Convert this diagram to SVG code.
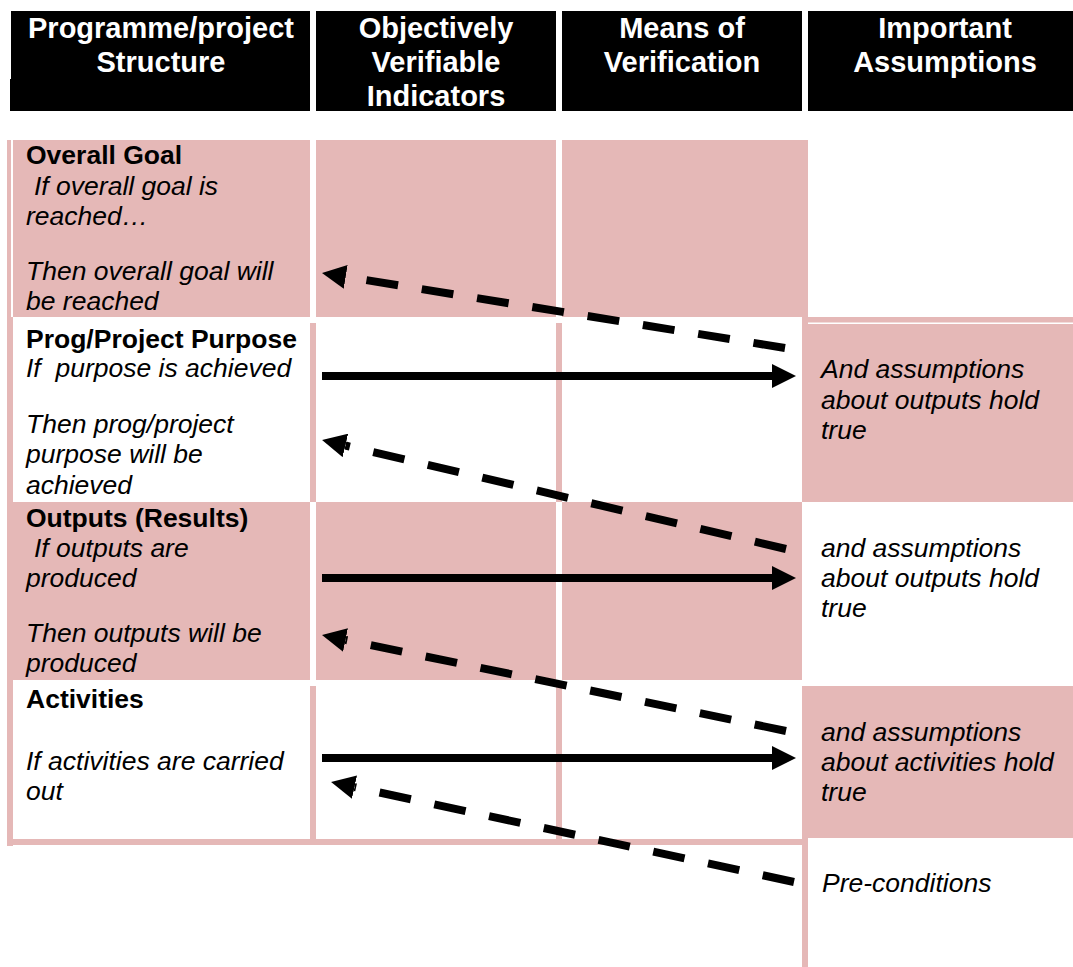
<svg xmlns="http://www.w3.org/2000/svg" width="1073" height="967" viewBox="0 0 1073 967">
  <style>
    .hd { font: bold 29px "Liberation Sans", Arial, sans-serif; fill: #fff; text-anchor: middle; }
    .b { font: bold 26.5px "Liberation Sans", Arial, sans-serif; fill: #000; }
    .i { font: italic 26.5px "Liberation Sans", Arial, sans-serif; fill: #000; }
    .pk { fill: #E5B8B7; }
    .blk { fill: #000; }
    .solid { stroke: #000; stroke-width: 8; fill: none; }
    .dash { stroke: #000; stroke-width: 8; fill: none; stroke-dasharray: 32 24; }
  </style>
  <defs>
    <marker id="head" markerUnits="userSpaceOnUse" markerWidth="24" markerHeight="24" viewBox="0 0 24 24" refX="0" refY="12" orient="auto">
      <path d="M0,0 L24,12 L0,24 z" fill="#000"/>
    </marker>
  </defs>
  <rect width="1073" height="967" fill="#fff"/>

  <!-- column headings -->
  <g id="hdr-structure">
    <path class="blk" d="M11,11 H310 V111 H10 V79 H11 z"/>
    <text class="hd" x="161" y="38">Programme/project</text>
    <text class="hd" x="161" y="72">Structure</text>
  </g>
  <g id="hdr-indicators">
    <rect class="blk" x="316" y="11" width="240" height="100"/>
    <text class="hd" x="436" y="38">Objectively</text>
    <text class="hd" x="436" y="72">Verifiable</text>
    <text class="hd" x="436" y="106">Indicators</text>
  </g>
  <g id="hdr-verification">
    <rect class="blk" x="562" y="11" width="240" height="100"/>
    <text class="hd" x="682" y="38">Means of</text>
    <text class="hd" x="682" y="72">Verification</text>
  </g>
  <g id="hdr-assumptions">
    <rect class="blk" x="808" y="11" width="265" height="100"/>
    <text class="hd" x="945" y="38">Important</text>
    <text class="hd" x="945" y="72">Assumptions</text>
  </g>

  <!-- table frame: left and bottom borders -->
  <g id="frame">
    <rect class="pk" x="7" y="140" width="6" height="706"/>
    <rect fill="#fff" x="11" y="140" width="2" height="177"/>
    <rect class="pk" x="7" y="839" width="801" height="6"/>
    <rect class="pk" x="802" y="838" width="6" height="129"/>
  </g>

  <!-- row 1: overall goal -->
  <g id="goal">
    <rect class="pk" x="13" y="140" width="297" height="177"/>
    <rect class="pk" x="316" y="140" width="240" height="177"/>
    <rect class="pk" x="562" y="140" width="246" height="177"/>
    <text class="b" x="26" y="164">Overall Goal</text>
    <text class="i" x="34" y="195">If overall goal is</text>
    <text class="i" x="26" y="225">reached…</text>
    <text class="i" x="26" y="280">Then overall goal will</text>
    <text class="i" x="26" y="310">be reached</text>
  </g>

  <!-- row 2: purpose -->
  <g id="purpose">
    <rect class="pk" x="310" y="323" width="6" height="179"/>
    <rect class="pk" x="556" y="323" width="6" height="179"/>
    <text class="b" x="26" y="348">Prog/Project Purpose</text>
    <text class="i" x="26" y="377" xml:space="preserve">If  purpose is achieved</text>
    <text class="i" x="26" y="433">Then prog/project</text>
    <text class="i" x="26" y="463">purpose will be</text>
    <text class="i" x="26" y="494">achieved</text>
  </g>
  <g id="assume-outputs-1">
    <rect class="pk" x="802" y="317" width="271" height="185"/>
    <rect fill="#fff" x="808" y="322.5" width="265" height="1.5"/>
    <text class="i" x="821" y="378">And assumptions</text>
    <text class="i" x="821" y="409">about outputs hold</text>
    <text class="i" x="821" y="439">true</text>
  </g>

  <!-- row 3: outputs -->
  <g id="outputs">
    <rect class="pk" x="13" y="502" width="297" height="178"/>
    <rect class="pk" x="316" y="502" width="240" height="178"/>
    <rect class="pk" x="562" y="502" width="240" height="178"/>
    <text class="b" x="26" y="527">Outputs (Results)</text>
    <text class="i" x="34" y="557">If outputs are</text>
    <text class="i" x="26" y="587">produced</text>
    <text class="i" x="26" y="642">Then outputs will be</text>
    <text class="i" x="26" y="672">produced</text>
  </g>
  <g id="assume-outputs-2">
    <text class="i" x="821" y="557">and assumptions</text>
    <text class="i" x="821" y="587">about outputs hold</text>
    <text class="i" x="821" y="617">true</text>
  </g>

  <!-- row 4: activities -->
  <g id="activities">
    <rect class="pk" x="310" y="686" width="6" height="153"/>
    <rect class="pk" x="556" y="686" width="6" height="153"/>
    <text class="b" x="26" y="708">Activities</text>
    <text class="i" x="26" y="770">If activities are carried</text>
    <text class="i" x="26" y="800">out</text>
  </g>
  <g id="assume-activities">
    <rect class="pk" x="802" y="686" width="271" height="152"/>
    <text class="i" x="821" y="741">and assumptions</text>
    <text class="i" x="821" y="771">about activities hold</text>
    <text class="i" x="821" y="801">true</text>
  </g>

  <!-- pre-conditions -->
  <g id="preconditions">
    <text class="i" x="822" y="892">Pre-conditions</text>
  </g>

  <!-- connectors -->
  <g id="connectors">
    <path class="solid" d="M322,376 L772,376" marker-end="url(#head)"/>
    <path class="solid" d="M322,578 L772,578" marker-end="url(#head)"/>
    <path class="solid" d="M322,758 L772,758" marker-end="url(#head)"/>
    <path class="dash" d="M785,348 L345.7,276.8" marker-end="url(#head)"/>
    <path class="dash" d="M786,549 L345.4,445.5" marker-end="url(#head)"/>
    <path class="dash" d="M786,731 L345.5,639.9" marker-end="url(#head)"/>
    <path class="dash" d="M794,882 L354.5,787.1" marker-end="url(#head)"/>
  </g>
</svg>
